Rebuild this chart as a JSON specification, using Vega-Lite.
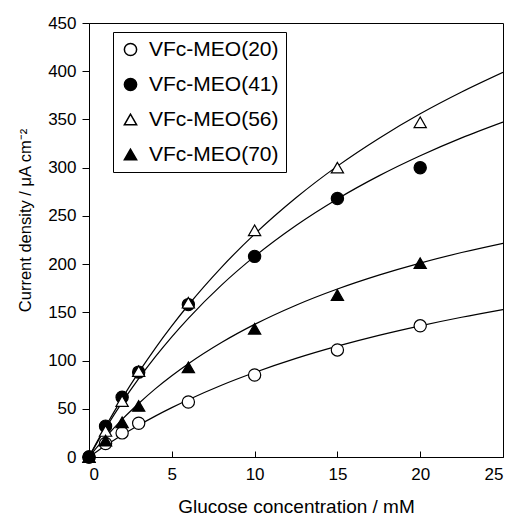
{
  "$schema": "https://vega.github.io/schema/vega-lite/v6.json",
  "width": 414,
  "height": 434,
  "autosize": {"type": "none"},
  "padding": {"left": 89, "top": 23, "right": 9, "bottom": 60},
  "background": "white",
  "config": {
    "view": {"stroke": "black", "strokeWidth": 1},
    "font": "Liberation Sans",
    "axis": {
      "grid": false,
      "domainColor": "black",
      "tickColor": "black",
      "labelColor": "black",
      "titleColor": "black",
      "labelFont": "Liberation Sans",
      "titleFont": "Liberation Sans",
      "labelFontSize": 17,
      "titleFontSize": 19,
      "titleFontWeight": "normal"
    },
    "legend": {
      "labelFont": "Liberation Sans",
      "labelFontSize": 21,
      "labelColor": "black"
    }
  },
  "datasets": {
    "points": [
      {"series": "VFc-MEO(20)", "x": 0, "y": 0},
      {"series": "VFc-MEO(20)", "x": 1, "y": 14},
      {"series": "VFc-MEO(20)", "x": 2, "y": 25},
      {"series": "VFc-MEO(20)", "x": 3, "y": 35},
      {"series": "VFc-MEO(20)", "x": 6, "y": 57},
      {"series": "VFc-MEO(20)", "x": 10, "y": 85},
      {"series": "VFc-MEO(20)", "x": 15, "y": 111},
      {"series": "VFc-MEO(20)", "x": 20, "y": 136},
      {"series": "VFc-MEO(41)", "x": 0, "y": 0},
      {"series": "VFc-MEO(41)", "x": 1, "y": 32},
      {"series": "VFc-MEO(41)", "x": 2, "y": 62},
      {"series": "VFc-MEO(41)", "x": 3, "y": 88},
      {"series": "VFc-MEO(41)", "x": 6, "y": 158},
      {"series": "VFc-MEO(41)", "x": 10, "y": 208},
      {"series": "VFc-MEO(41)", "x": 15, "y": 268},
      {"series": "VFc-MEO(41)", "x": 20, "y": 300},
      {"series": "VFc-MEO(56)", "x": 0, "y": 0},
      {"series": "VFc-MEO(56)", "x": 1, "y": 27},
      {"series": "VFc-MEO(56)", "x": 2, "y": 58},
      {"series": "VFc-MEO(56)", "x": 3, "y": 89},
      {"series": "VFc-MEO(56)", "x": 6, "y": 160},
      {"series": "VFc-MEO(56)", "x": 10, "y": 235},
      {"series": "VFc-MEO(56)", "x": 15, "y": 300},
      {"series": "VFc-MEO(56)", "x": 20, "y": 347},
      {"series": "VFc-MEO(70)", "x": 0, "y": 0},
      {"series": "VFc-MEO(70)", "x": 1, "y": 17},
      {"series": "VFc-MEO(70)", "x": 2, "y": 36},
      {"series": "VFc-MEO(70)", "x": 3, "y": 53},
      {"series": "VFc-MEO(70)", "x": 6, "y": 93},
      {"series": "VFc-MEO(70)", "x": 10, "y": 133},
      {"series": "VFc-MEO(70)", "x": 15, "y": 168},
      {"series": "VFc-MEO(70)", "x": 20, "y": 201}
    ],
    "curves": [
      {"series": "56", "x": 0, "y": 0}, {"series": "56", "x": 0.5, "y": 16.2}, {"series": "56", "x": 1, "y": 31.6}, {"series": "56", "x": 2, "y": 60.8}, {"series": "56", "x": 3, "y": 87.7}, {"series": "56", "x": 4, "y": 112.7}, {"series": "56", "x": 5, "y": 135.9}, {"series": "56", "x": 6, "y": 157.6}, {"series": "56", "x": 8, "y": 196.7}, {"series": "56", "x": 10, "y": 231.1}, {"series": "56", "x": 12.5, "y": 268.8}, {"series": "56", "x": 15, "y": 301.6}, {"series": "56", "x": 17.5, "y": 330.3}, {"series": "56", "x": 20, "y": 355.8}, {"series": "56", "x": 22.5, "y": 378.4}, {"series": "56", "x": 25, "y": 398.8},
      {"series": "41", "x": 0, "y": 0}, {"series": "41", "x": 0.5, "y": 15.2}, {"series": "41", "x": 1, "y": 29.6}, {"series": "41", "x": 2, "y": 56.6}, {"series": "41", "x": 3, "y": 81.2}, {"series": "41", "x": 4, "y": 103.8}, {"series": "41", "x": 5, "y": 124.6}, {"series": "41", "x": 6, "y": 143.8}, {"series": "41", "x": 8, "y": 178.2}, {"series": "41", "x": 10, "y": 208.0}, {"series": "41", "x": 12.5, "y": 240.1}, {"series": "41", "x": 15, "y": 267.6}, {"series": "41", "x": 17.5, "y": 291.5}, {"series": "41", "x": 20, "y": 312.4}, {"series": "41", "x": 22.5, "y": 330.9}, {"series": "41", "x": 25, "y": 347.3},
      {"series": "70", "x": 0, "y": 0}, {"series": "70", "x": 0.5, "y": 10.6}, {"series": "70", "x": 1, "y": 20.5}, {"series": "70", "x": 2, "y": 39.0}, {"series": "70", "x": 3, "y": 55.5}, {"series": "70", "x": 4, "y": 70.6}, {"series": "70", "x": 5, "y": 84.2}, {"series": "70", "x": 6, "y": 96.7}, {"series": "70", "x": 8, "y": 118.7}, {"series": "70", "x": 10, "y": 137.5}, {"series": "70", "x": 12.5, "y": 157.4}, {"series": "70", "x": 15, "y": 174.2}, {"series": "70", "x": 17.5, "y": 188.6}, {"series": "70", "x": 20, "y": 201.1}, {"series": "70", "x": 22.5, "y": 212.0}, {"series": "70", "x": 25, "y": 221.6},
      {"series": "20", "x": 0, "y": 0}, {"series": "20", "x": 0.5, "y": 6.0}, {"series": "20", "x": 1, "y": 11.8}, {"series": "20", "x": 2, "y": 22.8}, {"series": "20", "x": 3, "y": 32.9}, {"series": "20", "x": 4, "y": 42.4}, {"series": "20", "x": 5, "y": 51.2}, {"series": "20", "x": 6, "y": 59.4}, {"series": "20", "x": 8, "y": 74.4}, {"series": "20", "x": 10, "y": 87.6}, {"series": "20", "x": 12.5, "y": 102.2}, {"series": "20", "x": 15, "y": 114.9}, {"series": "20", "x": 17.5, "y": 126.1}, {"series": "20", "x": 20, "y": 136.0}, {"series": "20", "x": 22.5, "y": 144.9}, {"series": "20", "x": 25, "y": 152.9}
    ]
  },
  "layer": [
    {
      "data": {"name": "curves"},
      "mark": {"type": "line", "color": "black", "strokeWidth": 1.2, "interpolate": "monotone", "clip": true},
      "encoding": {
        "x": {"field": "x", "type": "quantitative"},
        "y": {"field": "y", "type": "quantitative"},
        "detail": {"field": "series", "type": "nominal"}
      }
    },
    {
      "data": {"name": "points"},
      "mark": {"type": "point", "filled": true, "stroke": "black", "strokeWidth": 1.2, "size": 150, "opacity": 1},
      "encoding": {
        "x": {
          "field": "x", "type": "quantitative",
          "scale": {"domain": [0, 25], "nice": false},
          "axis": {"values": [0, 5, 10, 15, 20, 25], "tickSize": -6, "labelPadding": 15, "title": "Glucose concentration / mM", "titlePadding": 15}
        },
        "y": {
          "field": "y", "type": "quantitative",
          "scale": {"domain": [0, 450], "nice": false},
          "axis": {"values": [0, 50, 100, 150, 200, 250, 300, 350, 400, 450], "tickSize": 7, "labelPadding": 6, "title": "Current density / μA cm⁻²", "titleFontSize": 16.5, "titleX": -64, "titleY": 197, "titleAlign": "center", "titleBaseline": "middle", "titleAngle": -90}
        },
        "shape": {
          "field": "series", "type": "nominal",
          "scale": {"domain": ["VFc-MEO(20)", "VFc-MEO(41)", "VFc-MEO(56)", "VFc-MEO(70)"], "range": ["circle", "circle", "triangle-up", "triangle-up"]},
          "legend": {"title": null, "orient": "none", "legendX": 24, "legendY": 9, "strokeColor": "black", "padding": 7, "rowPadding": 13, "symbolSize": 150, "labelOffset": 8, "fillColor": "white",
            "encode": {"symbols": {"update": {"stroke": {"value": "black"}, "strokeWidth": {"value": 1.2}}}}}
        },
        "fill": {
          "field": "series", "type": "nominal",
          "scale": {"domain": ["VFc-MEO(20)", "VFc-MEO(41)", "VFc-MEO(56)", "VFc-MEO(70)"], "range": ["white", "black", "white", "black"]},
          "legend": {"title": null, "orient": "none", "legendX": 24, "legendY": 9, "strokeColor": "black", "padding": 7, "rowPadding": 13, "symbolSize": 150, "labelOffset": 8, "fillColor": "white",
            "encode": {"symbols": {"update": {"stroke": {"value": "black"}, "strokeWidth": {"value": 1.2}}}}}
        }
      }
    }
  ]
}
